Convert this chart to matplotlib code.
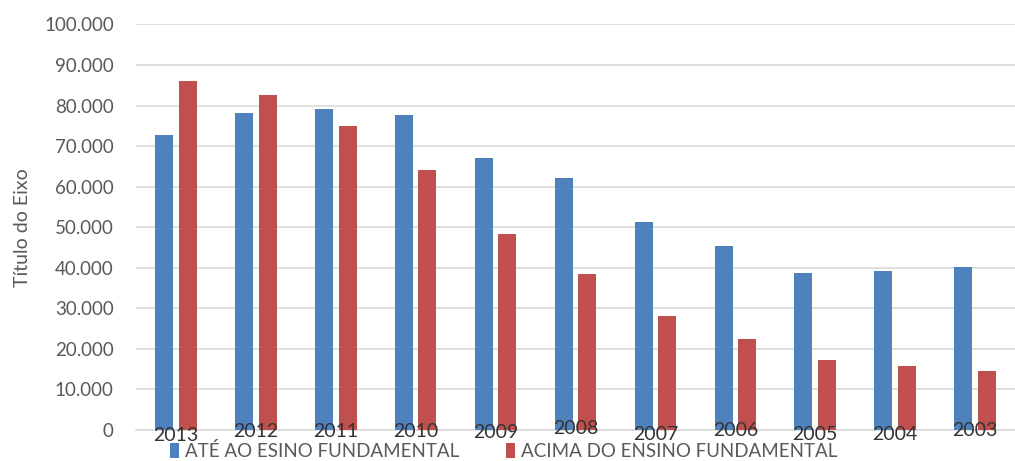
import matplotlib
matplotlib.use("Agg")
import matplotlib.pyplot as plt
import matplotlib.transforms as mtransforms
from matplotlib.patches import Patch
from matplotlib.ticker import FuncFormatter, MultipleLocator
import numpy as np

# Data
years = ["2013", "2012", "2011", "2010", "2009", "2008",
         "2007", "2006", "2005", "2004", "2003"]
ate_fundamental = [72800, 78100, 79100, 77800, 67200, 62200,
                   51200, 45300, 38700, 39200, 40100]
acima_fundamental = [86100, 82500, 74900, 64200, 48400, 38400,
                     28100, 22400, 17200, 15900, 14600]
series_names = ["ATÉ AO ESINO FUNDAMENTAL", "ACIMA DO ENSINO FUNDAMENTAL"]
y_title = "Título do Eixo"

# Styling
BLUE = "#4F81BD"
RED = "#C0504D"
GRID = "#D9D9D9"
TEXT = "#595959"
plt.rcParams["font.family"] = ["Lato", "DejaVu Sans"]

W, H, DPI = 1015, 461, 100
fig = plt.figure(figsize=(W / DPI, H / DPI), dpi=DPI)
ax = fig.add_axes([136 / W, 1 - 430 / H, 1 - 136 / W, (430 - 24.5) / H])

x = np.arange(len(years))
bw = 0.225
off = 0.147
ax.bar(x - off, ate_fundamental, bw, color=BLUE, zorder=3)
ax.bar(x + off, acima_fundamental, bw, color=RED, zorder=3)

ax.set_xlim(-0.5, len(years) - 0.5)
ax.set_ylim(0, 100000)
ax.yaxis.set_major_locator(MultipleLocator(10000))
ax.yaxis.set_major_formatter(
    FuncFormatter(lambda v, p: f"{int(v):,}".replace(",", ".")))
ax.grid(axis="y", color=GRID, linewidth=1.2)
ax.yaxis.set_zorder(0.5)
ax.xaxis.set_zorder(5)  # year labels are drawn over the bars
for s in ["top", "right", "left"]:
    ax.spines[s].set_visible(False)
ax.spines["bottom"].set_color(GRID)
ax.spines["bottom"].set_linewidth(1.2)
ax.spines["bottom"].set_zorder(1)

ax.tick_params(axis="y", length=0, pad=16, labelsize=13.5, labelcolor=TEXT)
ax.tick_params(axis="x", length=0, pad=0, labelsize=14, labelcolor="#333333")
ax.set_xticks(x)
ax.set_xticklabels(years)

# Year labels sit at slightly uneven heights under the axis (pixel offsets)
label_dy = [5, 1, 1, 1, 2, -2, 4, 0, 4, 4, 0]
for lab, dy in zip(ax.get_xticklabels(), label_dy):
    lab.set_verticalalignment("center")
    shift = mtransforms.ScaledTranslation(0, -dy / DPI, fig.dpi_scale_trans)
    lab.set_transform(lab.get_transform() + shift)

fig.text(23 / W, 1 - 228 / H, y_title, rotation=90, ha="center", va="center",
         fontsize=14, color=TEXT)

handles = [Patch(facecolor=BLUE), Patch(facecolor=RED)]
fig.legend(handles, series_names, loc="center", ncol=2,
           bbox_to_anchor=(504 / W, 1 - 451 / H), frameon=False,
           fontsize=13.5, labelcolor=TEXT, handlelength=0.45,
           handleheight=0.9, handletextpad=0.35, columnspacing=2.5,
           borderaxespad=0, borderpad=0)

fig.savefig("out.png", dpi=DPI)
